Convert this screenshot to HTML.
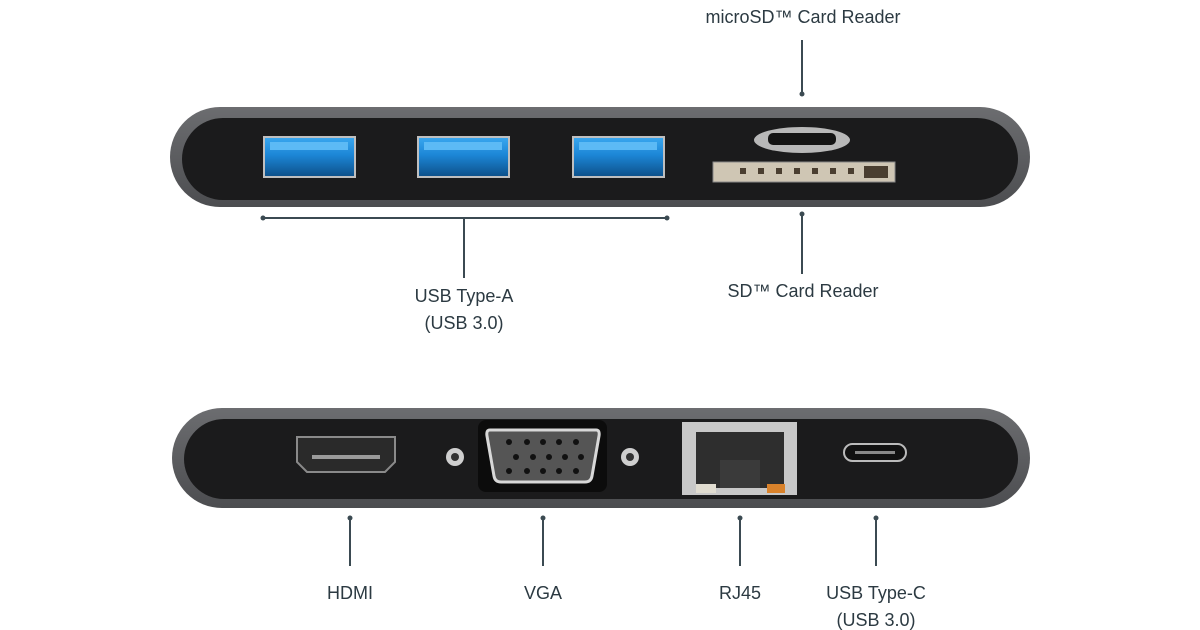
<!DOCTYPE html>
<html><head><meta charset="utf-8"><style>
html,body{margin:0;padding:0;background:#fff;}
svg{display:block;}
text{font-family:"Liberation Sans",sans-serif;font-size:18px;fill:#2c3a42;}
</style></head><body>
<svg width="1200" height="630" viewBox="0 0 1200 630" xmlns="http://www.w3.org/2000/svg">
<defs>
<linearGradient id="usb" x1="0" y1="0" x2="0" y2="1">
<stop offset="0" stop-color="#3aa8f0"/><stop offset="0.45" stop-color="#1c86d6"/><stop offset="1" stop-color="#0d4f88"/>
</linearGradient>
<linearGradient id="rim" x1="0" y1="0" x2="0" y2="1">
<stop offset="0" stop-color="#6c6d70"/><stop offset="1" stop-color="#4c4d50"/>
</linearGradient>
</defs>
<rect x="170" y="107" width="860" height="100" rx="50" fill="url(#rim)"/>
<rect x="182" y="118" width="836" height="82" rx="41" fill="#1b1b1c"/>
<g stroke="#bfbfbf" stroke-width="2">
<rect x="264" y="137" width="91" height="40" fill="url(#usb)"/>
<rect x="418" y="137" width="91" height="40" fill="url(#usb)"/>
<rect x="573" y="137" width="91" height="40" fill="url(#usb)"/>
</g>
<g fill="#5cbaf5"><rect x="270" y="142" width="78" height="8"/><rect x="424" y="142" width="78" height="8"/><rect x="579" y="142" width="78" height="8"/></g>
<ellipse cx="802" cy="140" rx="48" ry="13" fill="#b8b8b8"/>
<rect x="768" y="133" width="68" height="12" rx="5" fill="#141414"/>
<rect x="713" y="162" width="182" height="20" fill="#cfc6b4" stroke="#888" stroke-width="1"/>
<g fill="#4a3e30">
<rect x="740" y="168" width="6" height="6"/><rect x="758" y="168" width="6" height="6"/><rect x="776" y="168" width="6" height="6"/><rect x="794" y="168" width="6" height="6"/><rect x="812" y="168" width="6" height="6"/><rect x="830" y="168" width="6" height="6"/><rect x="848" y="168" width="6" height="6"/><rect x="864" y="166" width="24" height="12"/>
</g>
<g stroke="#3b4a52" stroke-width="2" fill="none">
<line x1="802" y1="40" x2="802" y2="94"/>
<line x1="802" y1="214" x2="802" y2="274"/>
<line x1="263" y1="218" x2="667" y2="218"/>
<line x1="464" y1="218" x2="464" y2="278"/>
</g>
<g fill="#3b4a52"><circle cx="802" cy="94" r="2.5"/><circle cx="802" cy="214" r="2.5"/><circle cx="263" cy="218" r="2.5"/><circle cx="667" cy="218" r="2.5"/></g>
<text x="803" y="23" text-anchor="middle">microSD™ Card Reader</text>
<text x="803" y="297" text-anchor="middle">SD™ Card Reader</text>
<text x="464" y="302" text-anchor="middle">USB Type-A</text>
<text x="464" y="329" text-anchor="middle">(USB 3.0)</text>
<rect x="172" y="408" width="858" height="100" rx="50" fill="url(#rim)"/>
<rect x="184" y="419" width="834" height="80" rx="40" fill="#1b1b1c"/>
<path d="M297 437 H395 V462 L385 472 H307 L297 462 Z" fill="#2a2a2a" stroke="#8a8a8a" stroke-width="2"/>
<rect x="312" y="455" width="68" height="4" fill="#9a9a9a"/>
<circle cx="455" cy="457" r="9" fill="#cfcfcf"/><circle cx="455" cy="457" r="4" fill="#333"/>
<circle cx="630" cy="457" r="9" fill="#cfcfcf"/><circle cx="630" cy="457" r="4" fill="#333"/>
<rect x="478" y="420" width="129" height="72" rx="8" fill="#0c0c0c"/>
<path d="M490 430 H596 Q600 430 599 436 L592 476 Q591 482 585 482 H501 Q495 482 494 476 L487 436 Q486 430 490 430 Z" fill="#555" stroke="#d8d8d8" stroke-width="3"/>
<g fill="#111">
<circle cx="509" cy="442" r="3"/><circle cx="527" cy="442" r="3"/><circle cx="543" cy="442" r="3"/><circle cx="559" cy="442" r="3"/><circle cx="576" cy="442" r="3"/>
<circle cx="516" cy="457" r="3"/><circle cx="533" cy="457" r="3"/><circle cx="549" cy="457" r="3"/><circle cx="565" cy="457" r="3"/><circle cx="581" cy="457" r="3"/>
<circle cx="509" cy="471" r="3"/><circle cx="527" cy="471" r="3"/><circle cx="543" cy="471" r="3"/><circle cx="559" cy="471" r="3"/><circle cx="576" cy="471" r="3"/>
</g>
<rect x="682" y="422" width="115" height="73" fill="#c8c8c8"/>
<rect x="696" y="432" width="88" height="56" fill="#2e2e2e"/>
<rect x="720" y="460" width="40" height="28" fill="#3a3a3a"/>
<rect x="696" y="484" width="20" height="9" fill="#e0dcd0"/>
<rect x="767" y="484" width="18" height="9" fill="#d9822b"/>
<rect x="844" y="444" width="62" height="17" rx="8.5" fill="#111" stroke="#bbb" stroke-width="2"/>
<rect x="855" y="451" width="40" height="3" fill="#888"/>
<g stroke="#3b4a52" stroke-width="2">
<line x1="350" y1="518" x2="350" y2="566"/>
<line x1="543" y1="518" x2="543" y2="566"/>
<line x1="740" y1="518" x2="740" y2="566"/>
<line x1="876" y1="518" x2="876" y2="566"/>
</g>
<g fill="#3b4a52"><circle cx="350" cy="518" r="2.5"/><circle cx="543" cy="518" r="2.5"/><circle cx="740" cy="518" r="2.5"/><circle cx="876" cy="518" r="2.5"/></g>
<text x="350" y="599" text-anchor="middle">HDMI</text>
<text x="543" y="599" text-anchor="middle">VGA</text>
<text x="740" y="599" text-anchor="middle">RJ45</text>
<text x="876" y="599" text-anchor="middle">USB Type-C</text>
<text x="876" y="626" text-anchor="middle">(USB 3.0)</text>
</svg>
</body></html>
